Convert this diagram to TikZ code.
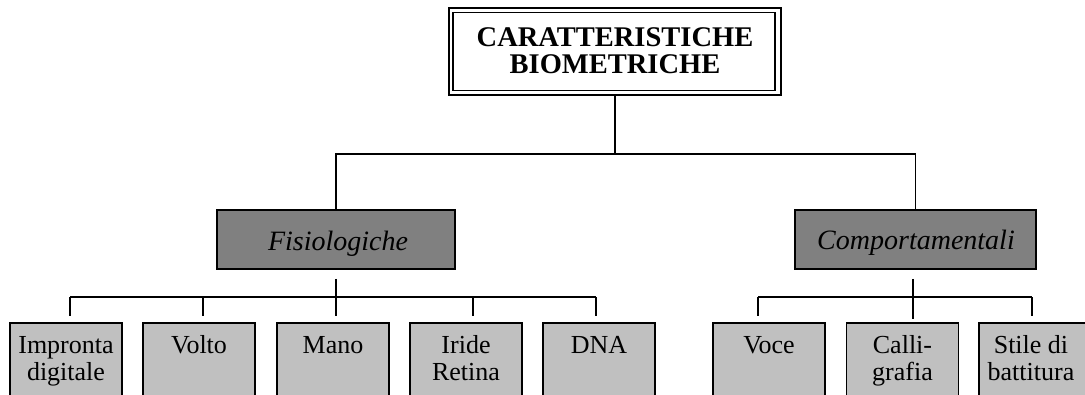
\documentclass[tikz,border=0pt]{standalone}
\usepackage{fontspec}
\setmainfont{Liberation Serif}
\begin{document}
\begin{tikzpicture}[x=1pt,y=-1pt,
  conn/.style={line width=1.4pt,black},
  midbox/.style={draw=black,line width=1.6pt,fill=midgray,minimum width=238pt,minimum height=59pt,inner sep=0pt},
  leafbox/.style={draw=black,line width=1.6pt,fill=leafgray,minimum width=112pt,minimum height=100pt,inner sep=0pt,anchor=north},
  leaftext/.style={anchor=north,align=center,inner sep=0pt,font=\fontsize{26}{27}\selectfont},
  midtext/.style={anchor=base,inner sep=0pt,font=\fontsize{28}{30}\selectfont\itshape}]
\definecolor{midgray}{RGB}{128,128,128}
\definecolor{leafgray}{RGB}{192,192,192}
\useasboundingbox (0,0) rectangle (1085,394);
\clip (0,0) rectangle (1085,394);
% title box
\node[draw=black,line width=2.3pt,minimum width=332pt,minimum height=87pt,inner sep=0pt] (top) at (615,51.5) {};
\node[draw=black,line width=1.3pt,minimum width=322pt,minimum height=78pt,inner sep=0pt] (topin) at (614,51.3) {};
\node[anchor=north,align=center,inner sep=0pt,font=\fontsize{28.5}{27}\selectfont\bfseries] (toptxt) at (615,27.5) {\strut CARATTERISTICHE\\BIOMETRICHE};
% second level
\node[midbox] (fis) at (336,239.5) {};
\node[midtext] (fistxt) at (338,250) {Fisiologiche};
\node[midbox,minimum width=241pt] (com) at (915.5,239.5) {};
\node[midtext] (comtxt) at (916,249) {Comportamentali};
% top connectors
\coordinate (bus0) at (615,154);
\draw[conn] (top.south) -- (bus0) -| (fis.north);
\draw[conn] (bus0) -| (com.north);
% leaves
\node[leafbox] (l1) at (66,322) {};
\node[leafbox] (l2) at (199,322) {};
\node[leafbox] (l3) at (333,322) {};
\node[leafbox] (l4) at (466,322) {};
\node[leafbox] (l5) at (599,322) {};
\node[leafbox] (r1) at (769,322) {};
\node[leafbox] (r2) at (902.5,322) {};
\node[leafbox] (r3) at (1035,322) {};
\node[leaftext] (l1t) at (66,334) {\strut Impronta\\digitale};
\node[leaftext] (l2t) at (199,334) {\strut Volto};
\node[leaftext] (l3t) at (333,334) {\strut Mano};
\node[leaftext] (l4t) at (466,334) {\strut Iride\\Retina};
\node[leaftext] (l5t) at (599,334) {\strut DNA};
\node[leaftext] (r1t) at (769,334) {\strut Voce};
\node[leaftext] (r2t) at (902.5,334) {\strut Calli-\\grafia};
\node[leaftext] (r3t) at (1031,334) {\strut Stile di\\battitura};
% lower buses
\coordinate (fb) at (336,297);
\coordinate (cb) at (913,297);
\coordinate (t1) at (70,297);
\coordinate (t2) at (203,297);
\coordinate (t4) at (473,297);
\coordinate (t5) at (596,297);
\coordinate (u1) at (758,297);
\coordinate (u3) at (1032,297);
\draw[conn,shorten <=9pt] (fb |- fis.south) -- (fb);
\draw[conn] (t1) -- (t5);
\draw[conn,shorten >=6pt] (t1) -- (t1 |- l1.north);
\draw[conn,shorten >=6pt] (t2) -- (t2 |- l2.north);
\draw[conn,shorten >=6pt] (fb) -- (fb |- l3.north);
\draw[conn,shorten >=6pt] (t4) -- (t4 |- l4.north);
\draw[conn,shorten >=6pt] (t5) -- (t5 |- l5.north);
\draw[conn,shorten <=9pt] (cb |- com.south) -- (cb);
\draw[conn] (u1) -- (u3);
\draw[conn,shorten >=6pt] (u1) -- (u1 |- r1.north);
\draw[conn,shorten >=3pt] (cb) -- (cb |- r2.north);
\draw[conn,shorten >=6pt] (u3) -- (u3 |- r3.north);
\end{tikzpicture}
\end{document}
